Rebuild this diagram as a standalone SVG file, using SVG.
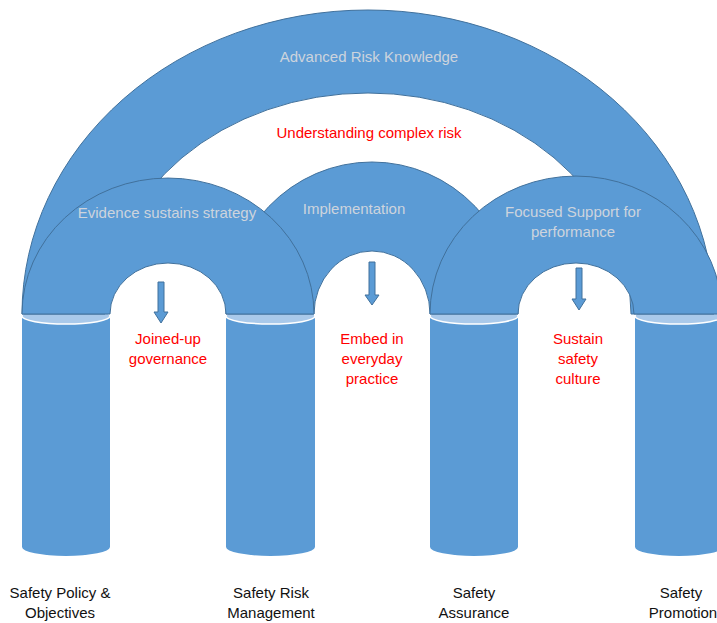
<svg xmlns="http://www.w3.org/2000/svg" width="717" height="623" viewBox="0 0 717 623">
<defs>
<style>
.shape{fill:#5b9bd5;stroke:#41719c;stroke-width:1}
.pill{fill:#5b9bd5;stroke:none}
.ptop{fill:#a9c9ea;stroke:#ffffff;stroke-width:1.5}
.arrow{fill:#5b9bd5;stroke:#41719c;stroke-width:1}
text{font-family:"Liberation Sans",Arial,sans-serif;text-anchor:middle}
.gray{fill:#cdd4dd;font-size:15px}
.red{fill:#ff0000;font-size:15px}
.blk{fill:#111111;font-size:15px}
</style>
</defs>
<rect width="717" height="623" fill="#ffffff"/>

<g id="pillar-policy">
<path class="pill" d="M22,316 L22,547 A44,9 0 0 0 110,547 L110,316 Z"/>
<ellipse class="ptop" cx="66" cy="316" rx="44" ry="8"/>
<text class="blk" x="60" y="598">Safety Policy &amp;</text>
<text class="blk" x="60" y="618">Objectives</text>
</g>
<g id="pillar-risk">
<path class="pill" d="M226,316 L226,547 A44.5,9 0 0 0 315,547 L315,316 Z"/>
<ellipse class="ptop" cx="270.5" cy="316" rx="44.5" ry="8"/>
<text class="blk" x="271" y="598">Safety Risk</text>
<text class="blk" x="271" y="618">Management</text>
</g>
<g id="pillar-assurance">
<path class="pill" d="M430,316 L430,547 A44,9 0 0 0 518,547 L518,316 Z"/>
<ellipse class="ptop" cx="474" cy="316" rx="44" ry="8"/>
<text class="blk" x="474" y="598">Safety</text>
<text class="blk" x="474" y="618">Assurance</text>
</g>
<g id="pillar-promotion">
<path class="pill" d="M635,316 L635,547 A44,9 0 0 0 723,547 L723,316 Z"/>
<ellipse class="ptop" cx="679" cy="316" rx="44" ry="8"/>
<text class="blk" x="681" y="598">Safety</text>
<text class="blk" x="683" y="618">Promotion</text>
</g>

<g id="arch-advanced">
<path class="shape" d="M22,314 A346,304 0 0 1 714,314 L631,314 A263,221 0 0 0 105,314 Z"/>
<text class="gray" x="369" y="62">Advanced Risk Knowledge</text>
<text class="red" x="369" y="138">Understanding complex risk</text>
</g>

<g id="arch-implementation">
<path class="shape" d="M226,314 A146,152 0 0 1 518,314 L430,314 A58,63 0 0 0 314,314 Z"/>
<text class="gray" x="354" y="214">Implementation</text>
</g>

<g id="arch-evidence">
<path class="shape" d="M22,314 A146,136 0 0 1 314,314 L226,314 A58,51 0 0 0 110,314 Z"/>
<text class="gray" x="167" y="218">Evidence sustains strategy</text>
</g>

<g id="arch-focused">
<path class="shape" d="M430,314 A146,138 0 0 1 722,314 L634,314 A58,51 0 0 0 518,314 Z"/>
<text class="gray" x="573" y="217">Focused Support for</text>
<text class="gray" x="573" y="237">performance</text>
</g>

<g id="label-governance">
<text class="red" x="168" y="344">Joined-up</text>
<text class="red" x="168" y="364">governance</text>
</g>
<g id="label-embed">
<text class="red" x="372" y="344">Embed in</text>
<text class="red" x="372" y="364">everyday</text>
<text class="red" x="372" y="384">practice</text>
</g>
<g id="label-sustain">
<text class="red" x="578" y="344">Sustain</text>
<text class="red" x="578" y="364">safety</text>
<text class="red" x="578" y="384">culture</text>
</g>

<g id="connectors">
<path class="arrow" d="M158,282 L164,282 L164,312 L168,312 L161,323 L154,312 L158,312 Z"/>
<path class="arrow" d="M369,262 L375,262 L375,295 L379,295 L372,305 L365,295 L369,295 Z"/>
<path class="arrow" d="M576,268 L582,268 L582,299 L586,299 L579,310 L572,299 L576,299 Z"/>
</g>
</svg>
